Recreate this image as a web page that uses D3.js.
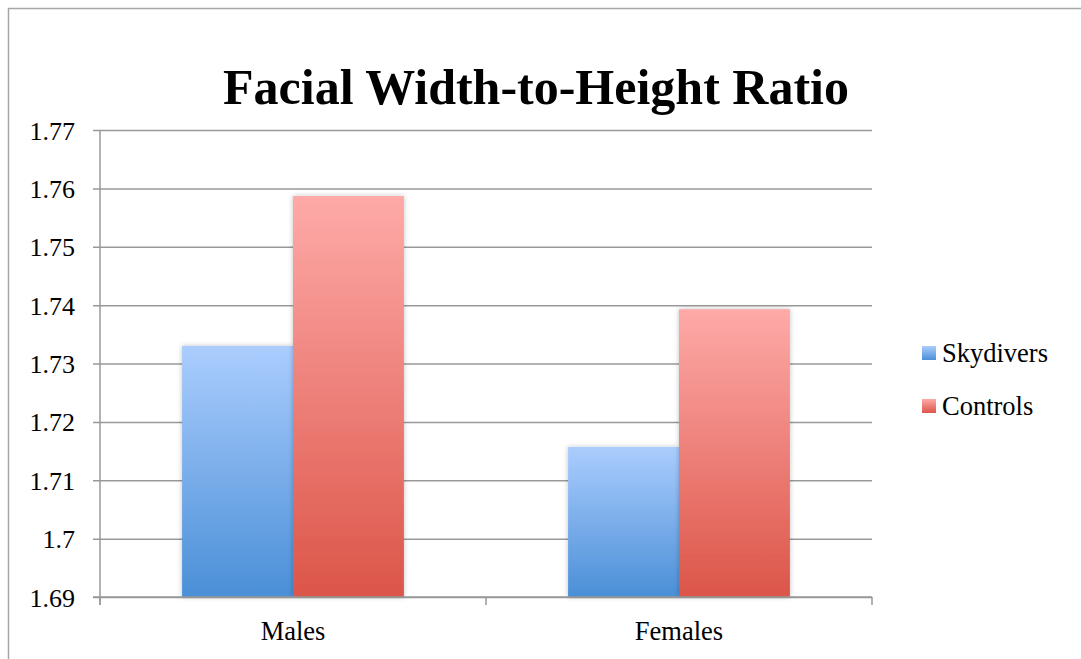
<!DOCTYPE html>
<html>
<head>
<meta charset="utf-8">
<script src="https://cdn.jsdelivr.net/npm/d3@7/dist/d3.min.js"></script>
<style>
  body { margin: 0; background: #fff; }
  text { font-family: "Liberation Serif", "DejaVu Serif", serif; fill: #000; }
</style>
</head>
<body>
<script>
// data
var categories = ['Males', 'Females'];
var seriesNames = ['Skydivers', 'Controls'];
var skydivers = [1.733, 1.7157];
var controls = [1.7587, 1.7393];
var yTicks = [1.69, 1.7, 1.71, 1.72, 1.73, 1.74, 1.75, 1.76, 1.77];

var width = 1081;
var height = 659;
var svg = d3.select('body').append('svg').attr('width', width).attr('height', height);

var plot = { left: 100, right: 872, top: 130, bottom: 597 };

// frame round the chart (runs off the right and bottom)
svg.append('path')
    .attr('d', 'M8.5,' + (height + 5) + 'V8.5H' + (width + 5))
    .attr('fill', 'none')
    .attr('stroke', '#a6a6a6')
    .attr('stroke-width', 1.5);

var defs = svg.append('defs');
var blueGrad = defs.append('linearGradient').attr('id', 'gBlue')
    .attr('x1', 0).attr('y1', 0).attr('x2', 0).attr('y2', 1);
blueGrad.append('stop').attr('offset', '0%').attr('stop-color', '#abcdfe');
blueGrad.append('stop').attr('offset', '100%').attr('stop-color', '#4a8fd7');
var redGrad = defs.append('linearGradient').attr('id', 'gRed')
    .attr('x1', 0).attr('y1', 0).attr('x2', 0).attr('y2', 1);
redGrad.append('stop').attr('offset', '0%').attr('stop-color', '#feaaa8');
redGrad.append('stop').attr('offset', '100%').attr('stop-color', '#dc5549');
var shadow = defs.append('filter').attr('id', 'shadow')
    .attr('x', '-20%').attr('y', '-20%').attr('width', '140%').attr('height', '140%');
shadow.append('feDropShadow').attr('dx', 0).attr('dy', 0).attr('stdDeviation', 2.5)
    .attr('flood-color', '#000').attr('flood-opacity', 0.25);

var y = d3.scaleLinear().domain([1.69, 1.77]).range([plot.bottom, plot.top]);
var x0 = d3.scaleBand().domain(categories).range([plot.left, plot.right]);
var x1 = d3.scaleBand().domain(seriesNames).range([0, x0.bandwidth()]).paddingOuter(0.74).paddingInner(0);

// gridlines
var yAxis = d3.axisLeft(y).tickValues(yTicks).tickSize(plot.right - plot.left + 7)
    .tickFormat(function (d) { return d3.format('')(+d.toFixed(2)); });
var gy = svg.append('g')
    .attr('transform', 'translate(' + plot.right + ',0)')
    .call(yAxis);
gy.select('.domain').remove();
gy.selectAll('line').attr('stroke', '#999').attr('stroke-width', 1.5);
gy.selectAll('text').attr('x', -(plot.right - 75)).attr('dx', 0).attr('dy', '0.35em')
    .style('font-size', '26px');

// x axis
var xAxis = d3.axisBottom(x0).tickSize(0).tickPadding(24);
var gx = svg.append('g')
    .attr('transform', 'translate(0,' + plot.bottom + ')')
    .call(xAxis);
gx.select('.domain').remove();
gx.selectAll('text').style('font-size', '26.5px');

// bars
var rows = categories.map(function (c, i) {
    return [
        { cat: c, name: 'Skydivers', value: skydivers[i], fill: 'url(#gBlue)' },
        { cat: c, name: 'Controls', value: controls[i], fill: 'url(#gRed)' }
    ];
});
svg.append('g').selectAll('g')
    .data(rows)
    .enter().append('g')
    .attr('transform', function (d) { return 'translate(' + x0(d[0].cat) + ',0)'; })
    .selectAll('rect')
    .data(function (d) { return d; })
    .enter().append('rect')
    .attr('x', function (d) { return x1(d.name); })
    .attr('width', x1.bandwidth())
    .attr('y', function (d) { return y(d.value); })
    .attr('height', function (d) { return plot.bottom - y(d.value); })
    .attr('fill', function (d) { return d.fill; })
    .attr('filter', 'url(#shadow)');

// axis lines on top
var axisG = svg.append('g').attr('stroke', '#999').attr('stroke-width', 1.5);
axisG.append('line').attr('x1', plot.left).attr('x2', plot.left)
    .attr('y1', plot.top).attr('y2', plot.bottom + 8);
axisG.append('line').attr('x1', plot.left - 7).attr('x2', plot.right)
    .attr('y1', plot.bottom).attr('y2', plot.bottom);
axisG.selectAll('.xt')
    .data(x0.domain().map(function (d) { return x0(d); }).concat([plot.right]))
    .enter().append('line')
    .attr('x1', function (d) { return d; }).attr('x2', function (d) { return d; })
    .attr('y1', plot.bottom).attr('y2', plot.bottom + 8);

// title
svg.append('text')
    .attr('x', 536).attr('y', 104)
    .attr('text-anchor', 'middle')
    .style('font-size', '50px').style('font-weight', 'bold')
    .text('Facial Width-to-Height Ratio');

// legend
var legend = svg.append('g').attr('transform', 'translate(922,346)');
var li = legend.selectAll('g')
    .data([{ name: 'Skydivers', fill: 'url(#gBlue)' }, { name: 'Controls', fill: 'url(#gRed)' }])
    .enter().append('g')
    .attr('transform', function (d, i) { return 'translate(0,' + i * 53 + ')'; });
li.append('rect').attr('width', 14).attr('height', 14).attr('fill', function (d) { return d.fill; });
li.append('text').attr('x', 20).attr('y', 7).attr('dy', '0.35em')
    .style('font-size', '26.5px').text(function (d) { return d.name; });
</script>
</body>
</html>
